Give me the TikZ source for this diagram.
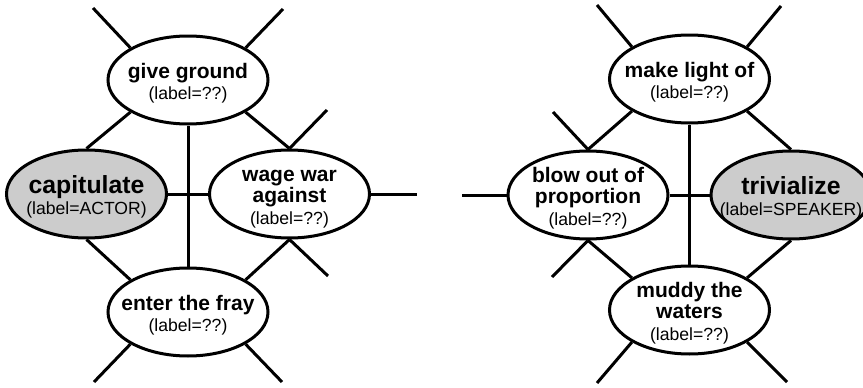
\documentclass[tikz,border=0pt]{standalone}
\usepackage{fontspec}
\setmainfont{Liberation Sans}
\usetikzlibrary{shapes.geometric}
\definecolor{focusgray}{HTML}{CCCCCC}
\newcommand{\hd}[1]{{\fontsize{21}{21.5}\selectfont\bfseries\rule{0pt}{15pt}#1}}
\newcommand{\hdbig}[1]{{\fontsize{24.8}{21.5}\selectfont\bfseries\rule{0pt}{15pt}#1}}
\newcommand{\lb}[1]{{\fontsize{17.6}{21.5}\selectfont #1}}
\begin{document}
\begin{tikzpicture}[x=1pt,y=-1pt,
  ell/.style={ellipse, draw=black, line width=3pt, fill=white, minimum width=160pt, minimum height=88pt, inner sep=0pt},
  focus/.style={ell, fill=focusgray},
  txt/.style={align=center, font=\fontsize{17.6}{21.5}\selectfont, inner sep=0pt, yshift=-3pt},
  link/.style={line width=3pt},
]
\clip (0,0) rectangle (863,388);
% left group
\node[ell] (gg) at (188,80) {};
\node[focus] (cap) at (86.5,194) {};
\node[ell] (war) at (289.5,194) {};
\node[ell] (fray) at (188,312) {};
\node[txt] (ggt) at (gg.center) {\hd{give ground}\\\lb{(label=??)}};
\node[txt] (capt) at (cap.center) {\hdbig{capitulate}\\\lb{(label=ACTOR)}};
\node[txt] (wart) at (war.center) {\hd{wage war}\\\hd{against}\\\lb{(label=??)}};
\node[txt] (frayt) at (fray.center) {\hd{enter the fray}\\\lb{(label=??)}};
\coordinate (ggnw) at (93,8);
\coordinate (ggne) at (283,9);
\coordinate (warne) at (327,110);
\coordinate (ware) at (417,194);
\coordinate (warse) at (328,276);
\coordinate (fraysw) at (94,382);
\coordinate (frayse) at (282,382);
\draw[link] (gg.north west) -- (ggnw);
\draw[link] (gg.north east) -- (ggne);
\draw[link] (gg.south west) -- (cap.north);
\draw[link] (gg.south east) -- (war.north);
\draw[link] (war.north) -- (warne);
\draw[link] (war.east) -- (ware);
\draw[link] (war.south) -- (warse);
\draw[link] (war.south) -- (fray.north east);
\draw[link] (cap.south) -- (fray.north west);
\draw[link] (fray.south west) -- (fraysw);
\draw[link] (fray.south east) -- (frayse);
\draw[link] (gg.south) -- (fray.north);
\draw[link] (cap.east) -- (war.west);
% right group
\node[ell] (mlo) at (689.5,79) {};
\node[ell] (blow) at (588,195) {};
\node[focus] (triv) at (791,195) {};
\node[ell] (mud) at (689.5,310) {};
\node[txt] (mlot) at (mlo.center) {\hd{make light of}\\\lb{(label=??)}};
\node[txt] (blowt) at (blow.center) {\hd{blow out of}\\\hd{proportion}\\\lb{(label=??)}};
\node[txt] (trivt) at (triv.center) {\hdbig{trivialize}\\\lb{(label=SPEAKER)}};
\node[txt] (mudt) at (mud.center) {\hd{muddy the}\\\hd{waters}\\\lb{(label=??)}};
\coordinate (mlonw) at (597,5);
\coordinate (mlone) at (781,6);
\coordinate (blownw) at (553,112);
\coordinate (blowwe) at (462,195);
\coordinate (blowsw) at (552,277);
\coordinate (mudsw) at (597,383);
\coordinate (mudse) at (787,382);
\draw[link] (mlo.north west) -- (mlonw);
\draw[link] (mlo.north east) -- (mlone);
\draw[link] (mlo.south west) -- (blow.north);
\draw[link] (blow.north) -- (blownw);
\draw[link] (mlo.south east) -- (triv.north);
\draw[link] (blow.west) -- (blowwe);
\draw[link] (blow.east) -- (triv.west);
\draw[link] (mlo.south) -- (mud.north);
\draw[link] (blow.south) -- (mud.north west);
\draw[link] (blow.south) -- (blowsw);
\draw[link] (triv.south) -- (mud.north east);
\draw[link] (mud.south west) -- (mudsw);
\draw[link] (mud.south east) -- (mudse);
\end{tikzpicture}
\end{document}
